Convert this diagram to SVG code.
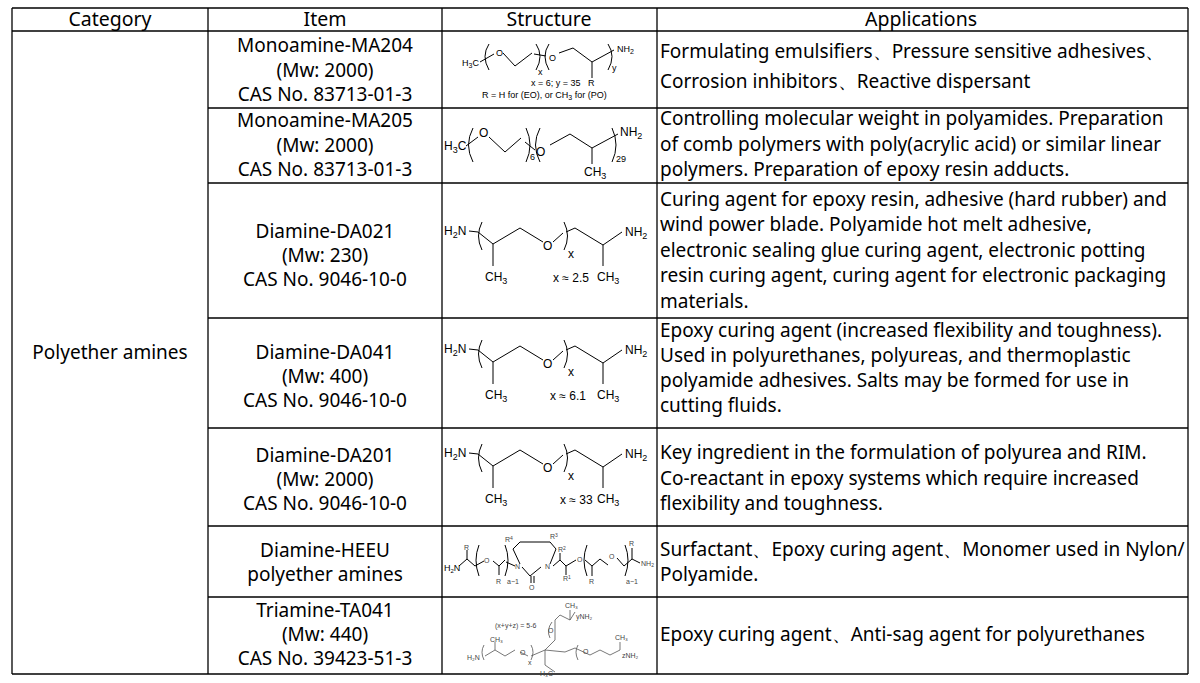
<svg xmlns="http://www.w3.org/2000/svg" width="1200" height="683" viewBox="0 0 1200 683">
<style>
.t{font-family:"Noto Sans","Open Sans",sans-serif;font-size:19px;fill:#000}
.i{font-size:19px}
.h{font-family:"Noto Sans","Open Sans",sans-serif;font-size:19.5px;fill:#000;text-anchor:middle}
.c{text-anchor:middle}
.s{font-family:"Liberation Sans",Arial,sans-serif;font-size:12px;fill:#000}
.xs{font-family:"Liberation Sans",Arial,sans-serif;font-size:9px;fill:#000}
.b{fill:none;stroke:#000;stroke-width:1}
.g{fill:none;stroke:#555;stroke-width:0.8}
.gs{font-family:"Liberation Sans",Arial,sans-serif;font-size:7px;fill:#444}
.ln{stroke:#000;stroke-width:1.3}
</style>
<defs>
<g id="dia">
<text class="s" x="444" y="235">H<tspan font-size="9" dy="3">2</tspan><tspan dy="-3">N</tspan></text>
<path class="b" d="M469 231 L478 232 M482 222 Q475 236 482 250 M478 232 L493 244 L520 228 L543 242 M553 242 L563 233 M564 222 Q571 236 564 250 M566 232 L575 228 L603 245 L622 232 M493 244 L493 266 M603 245 L603 266"/>
<text class="s" x="543" y="250">O</text>
<text class="s" x="568" y="258">x</text>
<text class="s" x="625" y="236">NH<tspan font-size="9" dy="3">2</tspan></text>
<text class="s" x="485" y="281">CH<tspan font-size="9" dy="3">3</tspan></text>
<text class="s" x="597" y="281">CH<tspan font-size="9" dy="3">3</tspan></text>
</g>
</defs>
<rect width="1200" height="683" fill="#fff"/>
<g id="grid" class="ln">
<line x1="12" y1="8" x2="1188" y2="8"/>
<line x1="12" y1="31" x2="1188" y2="31"/>
<line x1="208" y1="108" x2="1188" y2="108"/>
<line x1="208" y1="183" x2="1188" y2="183"/>
<line x1="208" y1="318" x2="1188" y2="318"/>
<line x1="208" y1="428" x2="1188" y2="428"/>
<line x1="208" y1="526" x2="1188" y2="526"/>
<line x1="208" y1="597" x2="1188" y2="597"/>
<line x1="12" y1="674" x2="1188" y2="674"/>
<line x1="12" y1="8" x2="12" y2="674"/>
<line x1="208" y1="8" x2="208" y2="674"/>
<line x1="442" y1="8" x2="442" y2="674"/>
<line x1="657" y1="8" x2="657" y2="674"/>
<line x1="1188" y1="8" x2="1188" y2="674"/>
</g>
<g id="header">
<text class="h" x="110" y="26">Category</text>
<text class="h" x="325" y="26">Item</text>
<text class="h" x="549" y="26">Structure</text>
<text class="h" x="921" y="26">Applications</text>
</g>
<g id="category"><text class="t i c" x="110" y="359">Polyether amines</text></g>
<g id="items">
<text class="t i c" x="325" y="52">Monoamine-MA204</text>
<text class="t i c" x="325" y="77">(Mw: 2000)</text>
<text class="t i c" x="325" y="101">CAS No. 83713-01-3</text>
<text class="t i c" x="325" y="127">Monoamine-MA205</text>
<text class="t i c" x="325" y="152">(Mw: 2000)</text>
<text class="t i c" x="325" y="176">CAS No. 83713-01-3</text>
<text class="t i c" x="325" y="238">Diamine-DA021</text>
<text class="t i c" x="325" y="262">(Mw: 230)</text>
<text class="t i c" x="325" y="286">CAS No. 9046-10-0</text>
<text class="t i c" x="325" y="359">Diamine-DA041</text>
<text class="t i c" x="325" y="383">(Mw: 400)</text>
<text class="t i c" x="325" y="407">CAS No. 9046-10-0</text>
<text class="t i c" x="325" y="462">Diamine-DA201</text>
<text class="t i c" x="325" y="486">(Mw: 2000)</text>
<text class="t i c" x="325" y="510">CAS No. 9046-10-0</text>
<text class="t i c" x="325" y="557">Diamine-HEEU</text>
<text class="t i c" x="325" y="581">polyether amines</text>
<text class="t i c" x="325" y="617">Triamine-TA041</text>
<text class="t i c" x="325" y="641">(Mw: 440)</text>
<text class="t i c" x="325" y="665">CAS No. 39423-51-3</text>
</g>
<g id="apps">
<text class="t" x="660" y="58">Formulating emulsifiers、Pressure sensitive adhesives、</text>
<text class="t" x="660" y="88">Corrosion inhibitors、Reactive dispersant</text>
<text class="t" x="660" y="125">Controlling molecular weight in polyamides. Preparation</text>
<text class="t" x="660" y="151">of comb polymers with poly(acrylic acid) or similar linear</text>
<text class="t" x="660" y="176">polymers. Preparation of epoxy resin adducts.</text>
<text class="t" x="660" y="206">Curing agent for epoxy resin, adhesive (hard rubber) and</text>
<text class="t" x="660" y="231">wind power blade. Polyamide hot melt adhesive,</text>
<text class="t" x="660" y="257">electronic sealing glue curing agent, electronic potting</text>
<text class="t" x="660" y="282">resin curing agent, curing agent for electronic packaging</text>
<text class="t" x="660" y="308">materials.</text>
<text class="t" x="660" y="337">Epoxy curing agent (increased flexibility and toughness).</text>
<text class="t" x="660" y="362">Used in polyurethanes, polyureas, and thermoplastic</text>
<text class="t" x="660" y="387">polyamide adhesives. Salts may be formed for use in</text>
<text class="t" x="660" y="412">cutting fluids.</text>
<text class="t" x="660" y="459">Key ingredient in the formulation of polyurea and RIM.</text>
<text class="t" x="660" y="485">Co-reactant in epoxy systems which require increased</text>
<text class="t" x="660" y="510">flexibility and toughness.</text>
<text class="t" x="660" y="556">Surfactant、Epoxy curing agent、Monomer used in  Nylon/</text>
<text class="t" x="660" y="581">Polyamide.</text>
<text class="t" x="660" y="641">Epoxy curing agent、Anti-sag agent for polyurethanes</text>
</g>
<g id="s1">
<text class="xs" x="462" y="66">H<tspan font-size="7" dy="2">3</tspan><tspan dy="-2">C</tspan></text>
<path class="b" d="M480 62 L494 54 M489 44 Q481 56 489 70 M503 53 L515 66 L532 53 M536 44 Q544 56 536 70 M534 54 L546 56 M549 44 Q541 56 549 70 M559 53 L573 48 L592 62 L614 50 M608 44 Q616 56 608 70 M592 62 L592 78"/>
<text class="xs" x="496" y="56">O</text>
<text class="xs" x="549" y="61">O</text>
<text class="xs" x="538" y="75">x</text>
<text class="xs" x="612" y="71">y</text>
<text class="xs" x="617" y="52">NH<tspan font-size="7" dy="2">2</tspan></text>
<text class="xs" x="588" y="86">R</text>
<text class="xs" x="531" y="86">x = 6; y = 35</text>
<text class="xs" x="482" y="98">R = H for (EO), or CH<tspan font-size="7" dy="2">3</tspan><tspan dy="-2"> for (PO)</tspan></text>
</g>
<g id="s2">
<text class="s" x="444" y="150">H<tspan font-size="9" dy="3">3</tspan><tspan dy="-3">C</tspan></text>
<path class="b" d="M466 146 L478 137 M473 128 Q464 145 473 162 M489 137 L505 152 L521 138 M526 128 Q534 145 526 162 M525 142 L535 150 M540 128 Q531 145 540 162 M550 145 L570 134 L592 148 L618 134 M612 128 Q620 145 612 162 M592 148 L592 164"/>
<text class="s" x="479" y="137">O</text>
<text class="s" x="536" y="156">O</text>
<text class="xs" x="530" y="160">6</text>
<text class="xs" x="616" y="162">29</text>
<text class="s" x="620" y="136">NH<tspan font-size="9" dy="3">2</tspan></text>
<text class="s" x="584" y="176">CH<tspan font-size="9" dy="3">3</tspan></text>
</g>
<g id="s3"><use href="#dia"/><text class="s" x="553" y="282">x ≈ 2.5</text></g>
<g id="s4"><use href="#dia" y="118"/><text class="s" x="550" y="400">x ≈ 6.1</text></g>
<g id="s5"><use href="#dia" y="222"/><text class="s" x="560" y="504">x ≈ 33</text></g>
<g id="s6">
<text class="xs" x="444" y="571">H<tspan font-size="6" dy="2">2</tspan><tspan dy="-2">N</tspan></text>
<path class="b" d="M459 566 L467 559 L475 566 M467 559 L467 550 M479 545 Q473 560 479 576 M475 566 L484 561 M493 561 L499 566 L505 560 M499 566 L499 575 M505 545 Q511 560 505 576 M506 562 L515 566 M522 567 L530 576 L541 567 M531 576 L531 583 M534 576 L534 583 M520 564 L513 549 L520 542 L550 542 L556 549 L550 564 M553 566 L560 560 L566 566 L576 560 M560 560 L560 553 M566 566 L566 575 M585 560 L592 566 L600 559 L608 565 M587 545 Q581 560 587 576 M592 566 L592 576 M617 558 L624 566 L632 559 L640 563 M625 545 Q631 560 625 576 M632 559 L632 548"/>
<text class="gs" x="464" y="550">R</text>
<text class="gs" x="484" y="563">O</text>
<text class="gs" x="496" y="584">R</text>
<text class="gs" x="507" y="584">a−1</text>
<text class="gs" x="515" y="569">N</text>
<text class="gs" x="505" y="542">R<tspan font-size="5" dy="-2">4</tspan></text>
<text class="gs" x="550" y="539">R<tspan font-size="5" dy="-2">3</tspan></text>
<text class="gs" x="545" y="569">N</text>
<text class="gs" x="529" y="590">O</text>
<text class="gs" x="558" y="552">R<tspan font-size="5" dy="-2">2</tspan></text>
<text class="gs" x="563" y="581">R<tspan font-size="5" dy="-2">1</tspan></text>
<text class="gs" x="577" y="562">O</text>
<text class="gs" x="589" y="584">R</text>
<text class="gs" x="609" y="559">O</text>
<text class="gs" x="626" y="584">a−1</text>
<text class="gs" x="629" y="546">R</text>
<text class="gs" x="641" y="566">NH<tspan font-size="5" dy="1">2</tspan></text>
</g>
<g id="s7">
<text class="gs" x="495" y="628" font-size="8">(x+y+z) = 5-6</text>
<path class="g" d="M485 656 L495 650 L505 656 L515 650 M495 650 L495 642 M484 645 Q480 652 484 660 M520 652 L528 656 M531 645 Q535 652 531 660 M531 656 L545 650 L545 665 L555 672 M545 650 L555 640 L555 620 L560 615 L570 620 L575 612 M570 620 L570 610 M550 638 Q546 630 552 622 M545 650 L565 652 L575 648 L590 655 L600 650 L610 655 M578 645 Q574 652 578 660 M610 655 L620 650 M620 650 L620 642"/>
<text class="gs" x="467" y="660">H₂N</text>
<text class="gs" x="490" y="642">CH₃</text>
<text class="gs" x="520" y="655">O</text>
<text class="gs" x="528" y="665">x</text>
<text class="gs" x="548" y="633">O</text>
<text class="gs" x="565" y="608">CH₃</text>
<text class="gs" x="576" y="619">yNH₂</text>
<text class="gs" x="583" y="654">O</text>
<text class="gs" x="615" y="640">CH₃</text>
<text class="gs" x="622" y="658">zNH₂</text>
<text class="gs" x="540" y="676">H₃C</text>
</g>
</svg>
